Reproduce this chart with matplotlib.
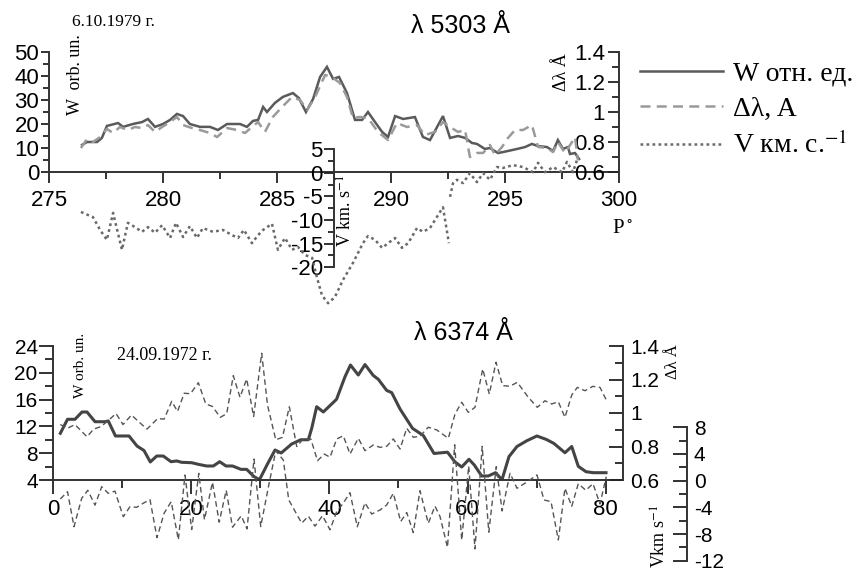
import numpy as np
import matplotlib
matplotlib.use("Agg")
import matplotlib.pyplot as plt
from matplotlib.ticker import MultipleLocator, FixedLocator

plt.rcParams['font.family'] = ['Liberation Sans', 'DejaVu Sans']
plt.rcParams['mathtext.fontset'] = 'stix'
plt.rcParams['axes.unicode_minus'] = False
SERIF = ['Liberation Serif', 'DejaVu Serif']

# ---------------- top panel: lambda 5303 A, 6.10.1979 ----------------
p_w_top = [276.45, 276.67, 277.11, 277.32, 277.54, 278.03, 278.25, 278.68, 279.08, 279.34,
           279.65, 280.0, 280.31, 280.61, 280.88, 281.18, 281.62, 282.06, 282.41, 282.81,
           283.38, 283.68, 283.95, 284.17, 284.39, 284.56, 284.91, 285.26, 285.70, 285.96,
           286.27, 286.58, 286.89, 287.19, 287.46, 287.72, 288.07, 288.42, 288.73, 288.99,
           289.30, 289.61, 289.87, 290.18, 290.53, 291.05, 291.40, 291.71, 292.28, 292.59,
           292.94, 293.25, 293.55, 293.77, 294.12, 294.34, 294.69, 294.91, 295.53, 295.88,
           296.18, 296.45, 296.84, 297.11, 297.32, 297.54, 297.76, 297.85, 298.07, 298.25]
w_top = [11.3, 12.5, 12.5, 14.2, 19.2, 20.4, 18.8, 20.0, 20.8, 22.1,
         18.8, 20.0, 21.7, 24.2, 23.3, 20.0, 18.8, 18.8, 17.5, 20.0,
         20.0, 18.8, 21.3, 21.7, 27.1, 25.0, 28.8, 31.3, 32.9, 30.8,
         25.0, 30.4, 39.6, 43.8, 38.8, 39.6, 32.9, 21.7, 21.7, 25.0,
         20.8, 16.7, 14.6, 23.3, 22.1, 22.9, 14.6, 13.3, 23.3, 14.2,
         15.0, 14.2, 12.1, 11.7, 9.6, 10.0, 7.9, 8.3, 9.6, 10.4,
         11.7, 10.8, 10.4, 8.75, 13.3, 9.6, 10.4, 7.5, 7.9, 5.4]

p_dl_top = [276.40, 276.67, 276.93, 277.24, 277.54, 277.81, 278.11, 278.46, 278.77, 279.08,
            279.34, 279.65, 279.96, 280.31, 280.61, 280.88, 281.27, 281.62, 282.06, 282.37,
            282.81, 283.25, 283.60, 283.90, 284.17, 284.47, 284.82, 285.22, 285.66, 286.01,
            286.32, 286.67, 287.11, 287.41, 287.76, 288.07, 288.33, 288.64, 288.99, 289.43,
            289.87, 290.26, 290.70, 291.14, 291.49, 291.93, 292.28, 292.59, 292.94, 293.25,
            293.46, 293.77, 294.04, 294.34, 294.56, 294.87, 295.13, 295.44, 295.79, 296.18,
            296.45, 296.84, 297.11, 297.32, 297.63, 297.94, 298.07, 298.20]
dl_top = [0.76, 0.82, 0.80, 0.833, 0.887, 0.86, 0.90, 0.88, 0.90, 0.893,
          0.913, 0.867, 0.90, 0.933, 0.967, 0.913, 0.893, 0.88, 0.86, 0.833,
          0.893, 0.88, 0.86, 0.90, 0.933, 0.867, 0.967, 1.033, 1.10, 1.08,
          1.013, 1.10, 1.247, 1.233, 1.193, 1.10, 0.96, 0.967, 0.96, 0.867,
          0.813, 0.927, 0.90, 0.913, 0.847, 0.867, 0.933, 0.90, 0.867, 0.88,
          0.70, 0.727, 0.727, 0.78, 0.713, 0.767, 0.827, 0.88, 0.88, 0.913,
          0.767, 0.76, 0.733, 0.80, 0.727, 0.80, 0.833, 0.68]

p_v_top = [276.40, 276.93, 277.24, 277.54, 277.81, 278.20, 278.46, 278.77, 279.08, 279.34,
           279.65, 279.96, 280.31, 280.57, 280.88, 281.18, 281.49, 281.75, 282.19, 282.63,
           283.03, 283.29, 283.55, 283.90, 284.17, 284.39, 284.78, 285.04, 285.35, 285.66,
           285.92, 286.23, 286.54, 286.75, 286.97, 287.24, 287.54, 287.89, 288.33, 288.77,
           288.99, 289.30, 289.61, 289.87, 290.18, 290.48, 290.75, 291.14, 291.40, 291.71,
           292.28, 292.54, 292.56,
           292.59, 292.72, 292.89, 293.16, 293.46, 293.77, 294.04, 294.34, 294.65, 294.91,
           295.35, 295.79, 296.23, 296.45, 296.75, 297.11, 297.50, 297.72, 297.98, 298.20]
v_top = [-8.3, -9.4, -12.1, -14.2, -8.5, -16.3, -10.6, -11.5, -12.5, -11.5,
         -12.7, -11.1, -13.8, -10.6, -13.6, -11.3, -13.8, -11.7, -12.5, -12.1,
         -13.2, -13.8, -12.1, -14.9, -13.2, -12.1, -10.8, -16.3, -13.8, -16.3,
         -15.7, -17.4, -18.0, -22.1, -25.9, -27.6, -26.3, -22.7, -19.1, -14.9,
         -13.4, -14.2, -15.9, -14.9, -13.8, -15.9, -14.9, -11.7, -12.5, -11.7,
         -7.3, -14.9, np.nan,
         -5.1, -2.2, -1.5, -2.2, -0.1, -2.0, -0.1, -1.5, 1.2, 1.0,
         1.6, 1.2, 0.1, 2.1, 0.1, 1.2, 0.1, 2.3, 0.1, 3.3]

# ---------------- bottom panel: lambda 6374 A, 24.09.1972 ----------------
x_w_low = [1.06, 2.10, 3.18, 4.20, 4.92, 6.08, 7.53, 8.00, 9.04, 11.0,
           12.16, 13.17, 14.08, 15.01, 15.96, 17.08, 17.90, 18.62, 20.07, 21.03,
           22.24, 23.20, 24.12, 25.04, 25.98, 27.21, 28.03, 29.09, 29.88, 31.04,
           32.13, 33.02, 34.54, 35.86, 36.95, 37.44, 38.16, 39.12, 41.03, 42.26,
           43.05, 44.18, 45.15, 46.35, 47.08, 48.29, 49.02, 50.22, 52.03, 53.59,
           55.14, 57.09, 58.18, 59.15, 60.20, 60.97, 62.04, 63.0, 64.04, 64.98,
           65.99, 67.15, 68.55, 70.04, 71.42, 72.50, 74.09, 75.07, 76.02, 77.13,
           78.19, 80.03]
w_low = [10.97, 13.06, 13.06, 14.15, 14.15, 12.70, 12.70, 12.81, 10.57, 10.57,
         9.07, 8.40, 6.69, 7.58, 7.58, 6.73, 6.84, 6.64, 6.58, 6.34,
         6.09, 6.09, 6.73, 6.09, 6.09, 5.59, 5.59, 4.51, 4.04, 6.39,
         8.48, 8.03, 9.37, 10.01, 10.01, 11.71, 14.94, 14.15, 16.04, 19.42,
         21.16, 19.67, 21.23, 19.6, 19.03, 17.37, 17.04, 14.6, 11.71, 10.64,
         7.96, 8.15, 6.69, 5.94, 7.09, 6.24, 4.60, 4.60, 5.09, 4.04,
         7.49, 9.0, 9.85, 10.57, 10.04, 9.45, 8.07, 9.0, 6.04, 5.24,
         5.09, 5.09]

x_dl_low = [1.06, 2.10, 3.18, 4.92, 5.89, 6.95, 8.00, 9.12, 10.13, 11.36,
            12.37, 13.60, 15.12, 16.09, 17.18, 18.02, 18.99, 19.90, 21.03, 22.11,
            23.08, 24.21, 25.14, 26.09, 27.06, 28.03, 29.04, 30.20, 31.04, 32.24,
            33.21, 34.20, 35.27, 36.22, 37.31, 38.28, 39.25, 40.09, 41.06, 42.01,
            42.98, 44.18, 45.15, 46.35, 47.32, 48.29, 49.25, 50.22, 51.19, 52.14,
            53.11, 54.31, 55.53, 57.21, 58.18, 59.15, 60.10, 61.07, 62.19, 63.14,
            64.11, 65.08, 66.14, 67.19, 68.78, 70.09, 71.20, 72.17, 73.13, 74.09,
            75.07, 75.88, 76.99, 78.10, 79.16, 80.13]
dl_low = [0.931, 0.909, 0.931, 0.858, 0.904, 0.919, 0.955, 0.997, 0.931, 0.988,
          0.949, 0.904, 0.966, 0.964, 1.070, 1.009, 1.118, 1.115, 1.181, 1.054,
          1.039, 0.974, 0.996, 1.223, 1.094, 1.203, 0.979, 1.357, 1.048, 0.840,
          0.855, 1.037, 0.800, 0.845, 0.845, 0.715, 0.755, 0.736, 0.845, 0.864,
          0.755, 0.849, 0.775, 0.809, 0.795, 0.801, 0.845, 0.785, 0.909, 0.855,
          0.861, 0.915, 0.899, 0.849, 0.994, 1.064, 1.004, 1.034, 1.263, 1.113,
          1.303, 1.163, 1.160, 1.183, 1.094, 1.034, 1.073, 1.054, 1.067, 0.974,
          1.107, 1.153, 1.133, 1.159, 1.153, 1.073]

x_v_low = [1.06, 2.10, 3.04, 4.15, 5.04, 6.08, 7.05, 8.00, 8.97, 10.17,
           11.14, 12.11, 13.07, 14.04, 15.05, 16.09, 17.11, 18.14, 19.10, 20.07,
           21.10, 21.92, 23.08, 24.05, 25.07, 25.98, 27.24, 28.08, 29.09, 30.06,
           31.23, 32.24, 33.33, 34.12, 35.99, 36.95, 37.92, 39.00, 40.09, 41.06,
           42.01, 42.98, 44.04, 45.15, 46.12, 47.32, 48.29, 49.25, 50.32, 51.19,
           52.14, 53.11, 54.31, 55.28, 56.01, 57.09, 58.13, 59.15, 60.16, 61.07,
           62.11, 63.07, 64.15, 65.00, 66.14, 67.15, 68.60, 70.04, 71.06, 72.07,
           73.13, 74.09, 75.07, 76.02, 77.11, 78.15, 79.16, 80.07]
v_low = [-2.74, -1.65, -6.90, -2.64, -1.44, -3.67, -0.90, -1.90, -1.57, -5.40,
         -3.90, -3.99, -3.37, -2.85, -8.54, -4.85, -3.15, -8.85, 0.85, -7.32,
         1.10, -5.84, -0.24, -6.22, -1.44, -6.97, -5.27, -7.23, 3.25, -6.88,
         -0.64, 4.48, 3.10, -2.89, -6.37, -5.32, -6.82, -5.25, -7.36, -4.62,
         -3.37, -1.80, -6.91, -3.31, -5.00, -4.40, -3.65, -1.89, -6.13, -4.78,
         -7.78, -1.50, -6.39, -3.82, -5.37, -9.99, 5.38, -8.89, 2.20, -10.24,
         5.15, -7.72, 2.10, -4.54, 1.11, -1.14, -0.19, 0.86, -2.89, -3.14,
         -8.88, -1.14, -3.85, -0.45, -1.44, -0.45, -3.49, 0.60]

legend_labels = ["W отн. ед.", "Δλ, A", "V км. с.$^{-1}$"]

# ---------------- figure ----------------
FW, FH = 856, 574
fig = plt.figure(figsize=(FW / 100, FH / 100), dpi=100)


def box(l, t, r, b):
    return [l / FW, 1 - b / FH, (r - l) / FW, (b - t) / FH]


SPC = '#333333'
TICKC = '#222222'


def style_spine(ax, names):
    for n, s in ax.spines.items():
        if n in names:
            s.set_color(SPC)
            s.set_linewidth(1.4)
        else:
            s.set_visible(False)


# ---- top panel ----
ax1 = fig.add_axes(box(49, 52, 619, 172))
ax1.patch.set_visible(False)
l_w, = ax1.plot(p_w_top, w_top, color='#5a5a5a', lw=1.8, solid_joinstyle='miter')
ax1.set_xlim(275, 300)
ax1.set_ylim(0, 50)
style_spine(ax1, ['left', 'bottom'])
ax1.xaxis.set_major_locator(MultipleLocator(5))
ax1.xaxis.set_minor_locator(MultipleLocator(2.5))
ax1.yaxis.set_major_locator(MultipleLocator(10))
ax1.yaxis.set_minor_locator(MultipleLocator(5))
ax1.tick_params(axis='x', which='major', direction='out', length=8, width=1.3, pad=5,
                labelsize=16, color=TICKC)
ax1.tick_params(axis='x', which='minor', direction='out', length=5, width=1.3, color=TICKC)
ax1.tick_params(axis='y', which='major', direction='out', length=6, width=1.3, pad=1,
                labelsize=16, color=TICKC)
ax1.tick_params(axis='y', which='minor', direction='out', length=4, width=1.3, color=TICKC)

ax1b = ax1.twinx()
l_dl, = ax1b.plot(p_dl_top, dl_top, color='#9a9a9a', lw=1.8, dashes=(4, 2.5))
ax1b.set_ylim(0.6, 1.4)
style_spine(ax1b, ['left'])
ax1b.spines['left'].set_position(('axes', 1.0))
ax1b.yaxis.set_ticks_position('left')
ax1b.yaxis.set_major_locator(FixedLocator([0.6, 0.8, 1.0, 1.2, 1.4]))
ax1b.yaxis.set_minor_locator(FixedLocator([0.7, 0.9, 1.1, 1.3]))
ax1b.yaxis.set_major_formatter(plt.FuncFormatter(lambda v, p: f"{v:g}"))
ax1b.tick_params(axis='y', which='major', direction='out', length=8, width=1.3, pad=2,
                 labelsize=16, color=TICKC)
ax1b.tick_params(axis='y', which='minor', direction='out', length=5, width=1.3, color=TICKC)

axv = fig.add_axes(box(49, 52, 619, 310))
axv.patch.set_visible(False)
l_v, = axv.plot(p_v_top, v_top, color='#6a6a6a', lw=1.8, dashes=(1.1, 1.3))
axv.set_xlim(275, 300)
axv.set_ylim(-29.03, 25.52)
style_spine(axv, ['left'])
axv.spines['left'].set_position(('data', 287.5))
axv.spines['left'].set_bounds(-20, 5)
axv.xaxis.set_visible(False)
axv.yaxis.set_major_locator(FixedLocator([-20, -15, -10, -5, 0, 5]))
axv.yaxis.set_minor_locator(FixedLocator([-17.5, -12.5, -7.5, -2.5, 2.5]))
axv.tick_params(axis='y', which='major', direction='out', length=7, width=1.3, pad=1,
                labelsize=16, color=TICKC)
axv.tick_params(axis='y', which='minor', direction='out', length=4, width=1.3, color=TICKC)

fig.text(461 / FW, 1 - 26 / FH, "λ 5303 Å", ha='center', va='center', fontsize=18)
fig.text(72 / FW, 1 - 22 / FH, "6.10.1979 г.", ha='left', va='center', fontsize=12.5,
         family=SERIF)
fig.text(76 / FW, 1 - 75 / FH, "W  orb. un.", rotation=90, ha='center', va='center',
         fontsize=13, family=SERIF)
fig.text(561 / FW, 1 - 72 / FH, "Δλ Å", rotation=90, ha='center', va='center',
         fontsize=13, family=SERIF)
fig.text(346 / FW, 1 - 211 / FH, "V km. s$^{-1}$", rotation=90, ha='center', va='center',
         fontsize=13, family=SERIF)
fig.text(622 / FW, 1 - 228 / FH, "P$^\\circ$", ha='center', va='center',
         fontsize=15, family=SERIF)

fig.legend([l_w, l_dl, l_v], legend_labels, loc='upper left',
           bbox_to_anchor=(640 / FW, 1 - 61 / FH), frameon=False,
           prop={'family': SERIF, 'size': 20}, handlelength=3.0, handletextpad=0.35,
           labelspacing=0.36, borderpad=0, borderaxespad=0)

# ---- bottom panel ----
ax2 = fig.add_axes(box(53, 346, 623, 480))
ax2.patch.set_visible(False)
ax2.plot(x_w_low, w_low, color='#444444', lw=2.2)
ax2.set_xlim(0, 82.49)
ax2.set_ylim(4, 24)
style_spine(ax2, ['left', 'bottom'])
ax2.spines['left'].set_bounds(4, 24)
ax2.xaxis.set_major_locator(FixedLocator([0, 20, 40, 60, 80]))
ax2.xaxis.set_minor_locator(FixedLocator([10, 30, 50, 70]))
ax2.yaxis.set_major_locator(MultipleLocator(4))
ax2.yaxis.set_minor_locator(MultipleLocator(2))
ax2.tick_params(axis='x', which='major', direction='out', length=10, width=1.3, pad=4,
                labelsize=16, color=TICKC)
ax2.tick_params(axis='x', which='minor', direction='out', length=6, width=1.3, color=TICKC)
ax2.tick_params(axis='y', which='major', direction='out', length=10, width=1.3, pad=1,
                labelsize=15, color=TICKC)
ax2.tick_params(axis='y', which='minor', direction='out', length=6, width=1.3, color=TICKC)

ax2b = ax2.twinx()
ax2b.plot(x_dl_low, dl_low, color='#555555', lw=1.0, dashes=(4, 2.5))
ax2b.set_ylim(0.6, 1.4)
style_spine(ax2b, ['right'])
ax2b.yaxis.set_major_locator(FixedLocator([0.6, 0.8, 1.0, 1.2, 1.4]))
ax2b.yaxis.set_minor_locator(FixedLocator([0.7, 0.9, 1.1, 1.3]))
ax2b.yaxis.set_major_formatter(plt.FuncFormatter(lambda v, p: f"{v:g}"))
ax2b.tick_params(axis='y', which='major', direction='in', length=10, width=1.3, pad=5,
                 labelsize=15, color=TICKC)
ax2b.tick_params(axis='y', which='minor', direction='in', length=6, width=1.3, color=TICKC)

ax2v = fig.add_axes(box(53, 346, 623, 565))
ax2v.patch.set_visible(False)
ax2v.plot(x_v_low, v_low, color='#555555', lw=1.0, dashes=(4, 2.5))
ax2v.set_xlim(0, 82.49)
ax2v.set_ylim(-12.64, 20.19)
style_spine(ax2v, ['right'])
ax2v.spines['right'].set_position(('axes', (687 - 53) / 570))
ax2v.spines['right'].set_bounds(-12, 8)
ax2v.xaxis.set_visible(False)
ax2v.yaxis.set_ticks_position('right')
ax2v.yaxis.set_major_locator(FixedLocator([-12, -8, -4, 0, 4, 8]))
ax2v.yaxis.set_minor_locator(FixedLocator([-10, -6, -2, 2, 6]))
ax2v.tick_params(axis='y', which='major', direction='in', length=10, width=1.3, pad=5,
                 labelsize=15, color=TICKC)
ax2v.tick_params(axis='y', which='minor', direction='in', length=6, width=1.3, color=TICKC)

fig.text(463 / FW, 1 - 333 / FH, "λ 6374 Å", ha='center', va='center', fontsize=18)
fig.text(117 / FW, 1 - 355 / FH, "24.09.1972 г.", ha='left', va='center', fontsize=13,
         family=SERIF)
fig.text(80 / FW, 1 - 365 / FH, "W orb. un.", rotation=90, ha='center', va='center',
         fontsize=11, family=SERIF)
fig.text(673 / FW, 1 - 362 / FH, "Δλ Å", rotation=90, ha='center', va='center',
         fontsize=12, family=SERIF)
fig.text(660 / FW, 1 - 536 / FH, "Vkm s$^{-1}$", rotation=90, ha='center', va='center',
         fontsize=13, family=SERIF)

fig.savefig("out.png", dpi=100)
